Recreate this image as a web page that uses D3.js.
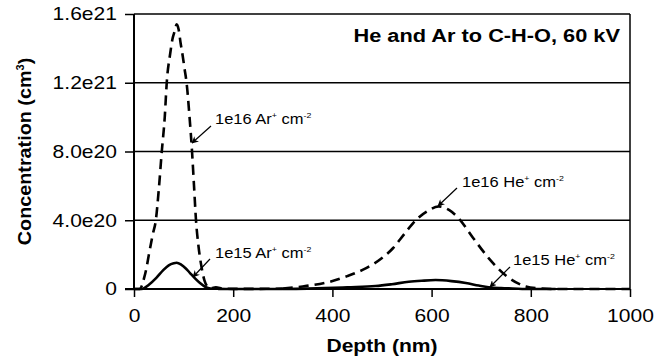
<!DOCTYPE html>
<html>
<head>
<meta charset="utf-8">
<script src="https://cdn.jsdelivr.net/npm/d3@7"></script>
<style>
  body { margin: 0; background: #fff; }
  text { font-family: "Liberation Sans", Arial, sans-serif; fill: #000; }
</style>
</head>
<body>
<div id="chart"></div>
<script>
// depth in nm, concentration in cm^-3
var ar16Depth = [0, 12, 16, 20, 25, 30, 38, 44, 50, 56, 62, 66, 73, 78, 82, 86, 90, 94, 98, 102, 106, 112, 117, 121, 125, 130, 136, 142, 148, 155, 165, 180, 200, 250, 300];
var ar16Conc  = [0, 0, 0.2e20, 0.6e20, 1.2e20, 2.0e20, 3.2e20, 4.0e20, 5.8e20, 8.0e20, 1.0e21, 1.2e21, 1.37e21, 1.46e21, 1.5e21, 1.54e21, 1.51e21, 1.43e21, 1.36e21, 1.28e21, 1.2e21, 1.0e21, 8.0e20, 6.0e20, 4.0e20, 2.5e20, 1.3e20, 0.5e20, 0.15e20, 0.05e20, 0.1e20, 0.02e20, 0.01e20, 0.01e20, 0.02e20];

var ar15Depth = [0, 12, 18, 30, 45, 59, 70, 80, 86, 95, 105, 113, 123, 133, 145, 154, 170, 200, 300];
var ar15Conc  = [0, 0, 0.02e20, 0.25e20, 0.65e20, 1.1e20, 1.38e20, 1.5e20, 1.53e20, 1.42e20, 1.18e20, 0.93e20, 0.62e20, 0.35e20, 0.1e20, 0.03e20, 0.01e20, 0, 0];

var he16Depth = [300, 340, 392, 430, 467, 500, 523, 545, 568, 590, 614, 635, 655, 683, 715, 749, 790, 820, 845, 900, 1000];
var he16Conc  = [0.02e20, 0.15e20, 0.4e20, 0.75e20, 1.2e20, 1.8e20, 2.4e20, 3.2e20, 4.0e20, 4.5e20, 4.8e20, 4.6e20, 4.1e20, 3.0e20, 1.8e20, 0.8e20, 0.15e20, 0.03e20, 0, 0, 0];

var he15Depth = [300, 385, 430, 487, 520, 554, 580, 608, 640, 669, 695, 715, 740, 763, 800, 850];
var he15Conc  = [0, 0.05e20, 0.1e20, 0.17e20, 0.28e20, 0.42e20, 0.48e20, 0.52e20, 0.46e20, 0.35e20, 0.2e20, 0.1e20, 0.05e20, 0.03e20, 0, 0];

var xTicks = [0, 200, 400, 600, 800, 1000];
var yTicks = [0, 4e20, 8e20, 1.2e21, 1.6e21];
var yTickLabels = ["0", "4.0e20", "8.0e20", "1.2e21", "1.6e21"];

var labels = [
  {ion: "Ar", dose: "1e16", tx: 215, ty: 124, from: [211, 126], to: [192, 143]},
  {ion: "Ar", dose: "1e15", tx: 215, ty: 258, from: [210, 259], to: [193, 277]},
  {ion: "He", dose: "1e16", tx: 462, ty: 187, from: [457, 188], to: [438, 206]},
  {ion: "He", dose: "1e15", tx: 513, ty: 265, from: [510, 267], to: [490, 287]}
];

var width = 655, height = 363;
var margin = {top: 14, right: 25, bottom: 74, left: 134};
var w = width - margin.left - margin.right;
var h = height - margin.top - margin.bottom;
var sx = 1.17; // glyphs in the original are a little wide

var svg = d3.select("#chart").append("svg")
  .attr("width", width)
  .attr("height", height);

svg.append("defs").append("marker")
  .attr("id", "arrow")
  .attr("viewBox", "0 0 10 10")
  .attr("refX", 9).attr("refY", 5)
  .attr("markerWidth", 7).attr("markerHeight", 7)
  .attr("markerUnits", "userSpaceOnUse")
  .attr("orient", "auto")
  .append("path")
  .attr("d", "M0,0 L10,5 L0,10 L3,5 z")
  .attr("fill", "#000");

var g = svg.append("g")
  .attr("transform", "translate(" + margin.left + "," + margin.top + ")");

var x = d3.scaleLinear().domain([0, 1000]).range([0, w]);
var y = d3.scaleLinear().domain([0, 1.6e21]).range([h, 0]);

// grid lines
g.selectAll(".grid").data(yTicks.slice(1))
  .enter().append("line")
  .attr("x1", 0).attr("x2", w)
  .attr("y1", d => y(d)).attr("y2", d => y(d))
  .attr("stroke", "#000").attr("stroke-width", 1.5);

// frame
g.append("line").attr("x1", w).attr("x2", w).attr("y1", 0).attr("y2", h)
  .attr("stroke", "#000").attr("stroke-width", 1.5);

var yAxis = d3.axisLeft(y).tickValues(yTicks)
  .tickFormat((d, i) => yTickLabels[i]).tickSize(9).tickPadding(8);
var yG = g.append("g").call(yAxis);
yG.select(".domain").remove();
yG.append("line").attr("x1", 0).attr("x2", 0).attr("y1", 0).attr("y2", h)
  .attr("stroke", "#000").attr("stroke-width", 2);

var xAxis = d3.axisBottom(x).tickValues(xTicks).tickFormat(d => d).tickSize(8).tickPadding(12);
var xG = g.append("g").attr("transform", "translate(0," + h + ")").call(xAxis);
xG.select(".domain").remove();
xG.append("line").attr("x1", -9).attr("x2", w).attr("y1", 0).attr("y2", 0)
  .attr("stroke", "#000").attr("stroke-width", 2);

svg.selectAll(".tick line").attr("stroke", "#000").attr("stroke-width", 1.5);
svg.selectAll(".tick text")
  .style("font-family", "Liberation Sans, Arial, sans-serif")
  .style("font-size", "18px").attr("fill", "#000")
  .attr("x", function() { return +d3.select(this).attr("x") / sx; })
  .attr("transform", "scale(" + sx + ",1)");

// curves
var line = d3.line()
  .x(d => x(d[0]))
  .y(d => y(d[1]))
  .curve(d3.curveMonotoneX);

function drawSeries(depth, conc, dashed) {
  g.append("path")
    .datum(depth.map((d, i) => [d, conc[i]]))
    .attr("fill", "none")
    .attr("stroke", "#000")
    .attr("stroke-width", 2.6)
    .attr("stroke-dasharray", dashed ? "10,6" : null)
    .attr("d", line);
}
drawSeries(ar16Depth, ar16Conc, true);
drawSeries(he16Depth, he16Conc, true);
drawSeries(ar15Depth, ar15Conc, false);
drawSeries(he15Depth, he15Conc, false);

// annotations
labels.forEach(function(l) {
  svg.append("line")
    .attr("x1", l.from[0]).attr("y1", l.from[1])
    .attr("x2", l.to[0]).attr("y2", l.to[1])
    .attr("stroke", "#000").attr("stroke-width", 1.2)
    .attr("marker-end", "url(#arrow)");
  var t = svg.append("g")
    .attr("transform", "translate(" + l.tx + "," + l.ty + ") scale(1.1,1)")
    .append("text")
    .style("font-size", "15px");
  t.append("tspan").text(l.dose + " " + l.ion);
  t.append("tspan").attr("dy", -6).style("font-size", "8px").text("+");
  t.append("tspan").attr("dy", 6).text(" cm");
  t.append("tspan").attr("dy", -6).style("font-size", "8px").text("-2");
});

// title
svg.append("g")
  .attr("transform", "translate(620,42) scale(1.21,1)")
  .append("text")
  .attr("text-anchor", "end")
  .style("font-size", "18px").style("font-weight", "bold")
  .text("He and Ar to C-H-O, 60 kV");

// axis titles
svg.append("g")
  .attr("transform", "translate(" + (margin.left + w / 2) + ",352) scale(" + sx + ",1)")
  .append("text")
  .attr("text-anchor", "middle")
  .style("font-size", "18px").style("font-weight", "bold")
  .text("Depth (nm)");

var yt = svg.append("g")
  .attr("transform", "translate(31," + (margin.top + h / 2) + ") rotate(-90) scale(1.1,1)")
  .append("text")
  .attr("text-anchor", "middle")
  .style("font-size", "18px").style("font-weight", "bold");
yt.append("tspan").text("Concentration (cm");
yt.append("tspan").attr("dy", -7).style("font-size", "10px").text("3");
yt.append("tspan").attr("dy", 7).text(")");
</script>
</body>
</html>
